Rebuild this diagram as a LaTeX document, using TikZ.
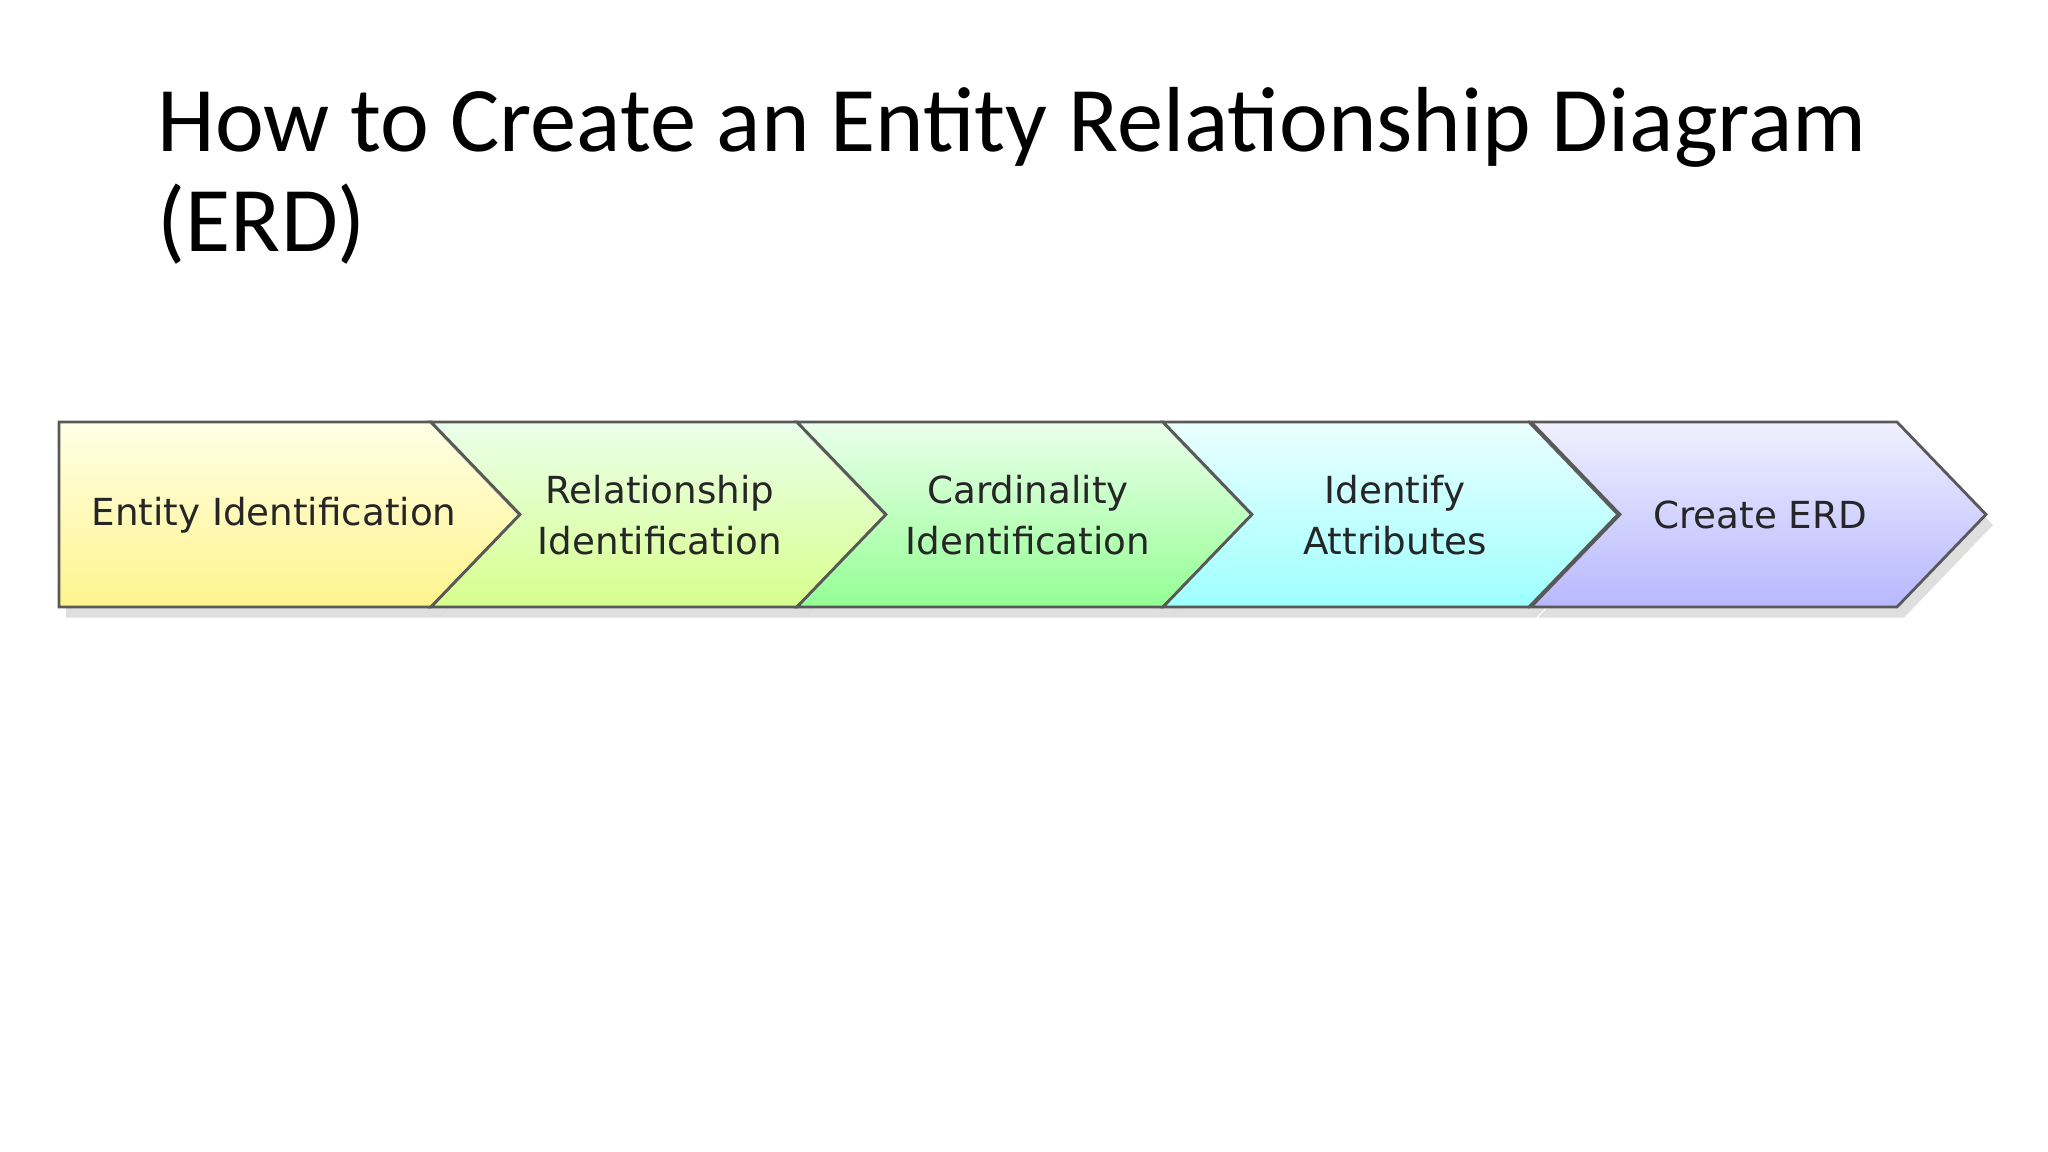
\documentclass[tikz,border=0pt]{standalone}
\usepackage{fontspec}
\setmainfont{Carlito}
\newfontfamily\boxfont{DejaVu Sans}
\usetikzlibrary{shadows}
\tikzset{
  chev/.style={draw=gray!70!black, line width=0.8pt, drop shadow={opacity=0.25, shadow xshift=2pt, shadow yshift=-3pt}},
  lbl/.style={font=\boxfont\fontsize{10.6}{14.5}\selectfont, text=black!85, align=center}
}
\begin{document}
\begin{tikzpicture}
\useasboundingbox (0,0) rectangle (20.48,11.52);
\fill[white] (0,0) rectangle (20.48,11.52);
\node[anchor=base west, font=\fontsize{26.3}{33}\selectfont, align=left, inner sep=0] (title) at (1.57,10.0) {How to Create an Entity Relationship Diagram};
\node[anchor=base west, font=\fontsize{26.3}{33}\selectfont, inner sep=0] (title2) at (1.57,9.0) {(ERD)};
\def\top{7.30}\def\bot{5.45}\def\mid{6.375}
\path[chev, top color=yellow!10, bottom color=orange!20!yellow!45] (0.59,\top) -- (4.31,\top) -- (5.20,\mid) -- (4.31,\bot) -- (0.59,\bot) -- cycle;
\foreach \x/\ct/\cb in {4.31/green!8/green!35!yellow!45, 7.97/green!8/green!42, 11.63/cyan!8/cyan!38, 15.31/blue!6/blue!28}{
  \path[chev, top color=\ct, bottom color=\cb] (\x,\top) -- (\x+3.66,\top) -- (\x+4.55,\mid) -- (\x+3.66,\bot) -- (\x,\bot) -- (\x+0.89,\mid) -- cycle;
}
\node[lbl] (c1) at (2.74,6.37) {Entity Identification};
\node[lbl] (c2) at (6.60,6.37) {Relationship\\Identification};
\node[lbl] (c3) at (10.28,6.37) {Cardinality\\Identification};
\node[lbl] (c4) at (13.95,6.37) {Identify\\Attributes};
\node[lbl] (c5) at (17.60,6.37) {Create ERD};
\end{tikzpicture}
\end{document}
